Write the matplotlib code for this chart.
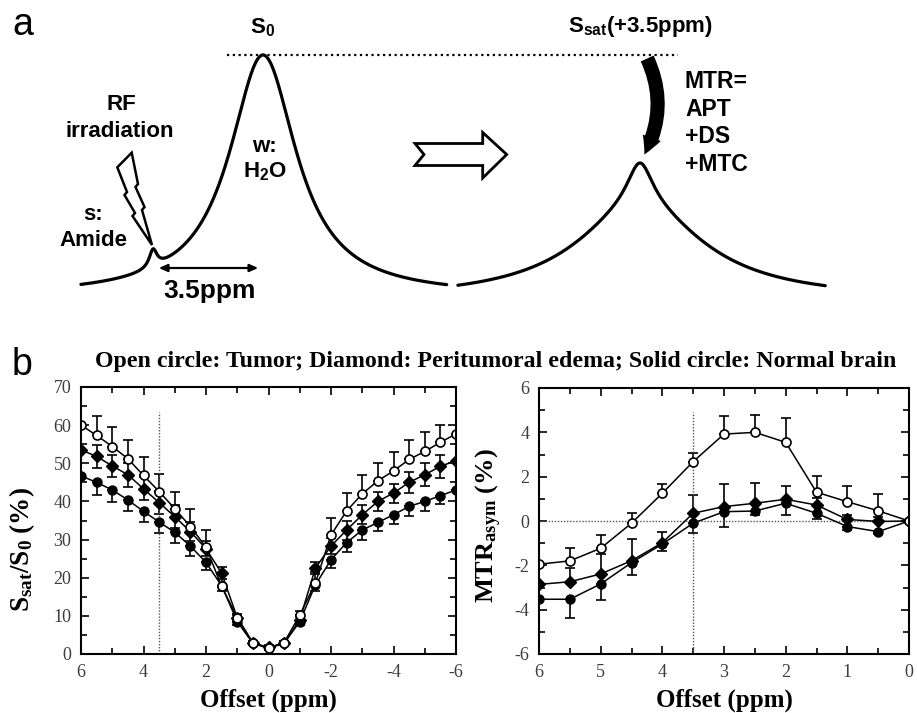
import matplotlib.pyplot as plt
import numpy as np
from matplotlib.patches import Polygon, FancyArrowPatch
from matplotlib.ticker import MultipleLocator

plt.rcParams["font.family"] = "Liberation Serif"
plt.rcParams["axes.unicode_minus"] = False
plt.rcParams["mathtext.fontset"] = "custom"
plt.rcParams["mathtext.rm"] = "Liberation Sans:bold"
plt.rcParams["mathtext.bf"] = "Liberation Serif:bold"

SANS = "Liberation Sans"

# ---- panel b, left: Z-spectra (Ssat/S0, %) ----
offset_z = [6, 5.5, 5, 4.5, 4, 3.5, 3, 2.5, 2, 1.5, 1, 0.5, 0,
            -0.5, -1, -1.5, -2, -2.5, -3, -3.5, -4, -4.5, -5, -5.5, -6]
tumor_z = [60, 57.3, 54.4, 51.2, 46.8, 42.6, 38.1, 33.4, 28, 17.8, 9.5, 3, 1.5,
           3, 10.2, 18.6, 31.2, 37.5, 42, 45.4, 48, 51, 53.1, 55.5, 57.7]
edema_z = [53.5, 51.8, 49.3, 47, 43.3, 39.7, 36, 32.1, 27.6, 21.2, 9.5, 2.8, 1.8,
           2.8, 9, 22.5, 28.3, 32.5, 36.5, 40, 42.2, 45, 47, 49.2, 50.7]
normal_z = [46.7, 45, 43, 40.4, 37.4, 34.6, 31.9, 28.3, 24, 17.9, 8.5, 2.8, 1.5,
            2.8, 8.5, 18.1, 24.7, 29.2, 32.5, 34.5, 36.5, 38.7, 40, 41.5, 43]
tumor_z_err = [0, 5, 5, 5, 4.8, 4.5, 4.5, 4.5, 4.5, 3.3, 1, 0.5, 0.5,
               0.5, 1.2, 3, 4.5, 4.7, 4.8, 4.7, 5, 5, 5, 4.5, 0]
edema_z_err = [0, 3, 3, 3.2, 3, 3, 3, 2.5, 2, 1.5, 0.8, 0.5, 0.5,
               0.5, 0.8, 1.5, 2, 2.5, 2.5, 2.5, 2.5, 2.8, 3, 3, 0]
normal_z_err = [0, 3.3, 3.2, 3, 2.8, 2.8, 2.8, 2.5, 2, 1.5, 0.8, 0.5, 0.5,
                0.5, 0.8, 1.5, 2.2, 2.5, 2.5, 2.3, 2.3, 2.5, 2.5, 2.3, 0]

# ---- panel b, right: MTRasym (%) ----
offset_m = [6, 5.5, 5, 4.5, 4, 3.5, 3, 2.5, 2, 1.5, 1, 0.5, 0]
tumor_m = [-1.95, -1.8, -1.23, -0.1, 1.25, 2.68, 3.92, 4.0, 3.55, 1.3, 0.87, 0.46, 0]
edema_m = [-2.86, -2.74, -2.39, -1.79, -0.98, 0.35, 0.65, 0.8, 0.98, 0.72, 0.07, -0.02, 0]
normal_m = [-3.53, -3.53, -2.84, -1.88, -1.04, -0.1, 0.42, 0.45, 0.8, 0.35, -0.25, -0.48, 0]
tumor_m_err = [0, 0.6, 0.6, 0.45, 0.4, 0.4, 0.8, 0.8, 1.1, 0.75, 0.7, 0.75, 0]
edema_m_err = [0, 0.6, 0.9, 1.0, 0.5, 0.82, 1.0, 0.93, 0.6, 0.3, 0.2, 0.2, 0]
normal_m_err = [0, 0.83, 0.72, 0.55, 0.3, 0.43, 0.7, 0.2, 0.55, 0.25, 0.15, 0.1, 0]

REF_OFFSET = 3.5

fig = plt.figure(figsize=(9.17, 7.13), dpi=100)

# overlay in pixel units for the schematic and free text
ov = fig.add_axes([0, 0, 1, 1], zorder=5)
ov.set_xlim(0, 917)
ov.set_ylim(713, 0)
ov.axis("off")
ov.patch.set_visible(False)


def lorentz(x, x0, w):
    return 1.0 / (1.0 + ((x - x0) / w) ** 2)


# ---- panel a: schematic spectra ----
PX_PER_PPM = 31.4
ppm = np.linspace(5.8, -5.85, 500)
xl = 263 - PX_PER_PPM * ppm
yl = 296 - 241 * lorentz(ppm, 0, 1.3) - 18 * lorentz(ppm, 3.5, 0.15)
ov.plot(xl, yl, color="black", lw=2.3, solid_capstyle="round")

ppm2 = np.linspace(5.8, -5.9, 500)
xr = 640 - PX_PER_PPM * ppm2
yr = 300 - 45 * lorentz(ppm2, 0, 0.5) - 92 * lorentz(ppm2, 0, 2.5)
ov.plot(xr, yr, color="black", lw=2.3, solid_capstyle="round")

ov.plot([227, 678], [55, 55], color="black", lw=1.6, ls=(0, (1, 1.6)))

ov.annotate("", xy=(156, 268), xytext=(261, 268),
            arrowprops=dict(arrowstyle="<|-|>,head_length=0.5,head_width=0.22",
                            color="black", lw=1.6))

bolt = [(131.7, 152.7), (117.3, 167.3), (127.0, 192.0), (124.5, 195.0), (135.0, 213.0),
        (132.5, 216.0), (152.0, 245.0), (142.0, 210.0), (144.5, 207.0), (135.5, 187.0),
        (138.0, 184.0)]
ov.add_patch(Polygon(bolt, closed=True, fill=False, ec="black", lw=1.8, joinstyle="miter"))

hollow = [(415, 143.5), (482.7, 143.5), (482.7, 132.5), (506.7, 154.5), (482.7, 178),
          (482.7, 165.5), (415, 165.5), (424, 154.5)]
ov.add_patch(Polygon(hollow, closed=True, fc="white", ec="black", lw=2.0, joinstyle="miter"))

ov.add_patch(FancyArrowPatch((646, 56), (643, 157), connectionstyle="arc3,rad=-0.26",
                             arrowstyle="simple,head_length=1.1,head_width=1.15,tail_width=0.85",
                             mutation_scale=12, color="black", lw=0))

kw_a = dict(family=SANS, weight="bold", color="black")
ov.text(12, 35, "a", family=SANS, fontsize=27, va="baseline", ha="left")
ov.text(263, 33, r"S$\mathrm{_0}$", fontsize=16, ha="center", va="baseline", **kw_a)
ov.text(640, 32, r"S$\mathrm{_{sat}}$(+3.5ppm)", fontsize=16, ha="center", va="baseline", **kw_a)
ov.text(121, 110, "RF", fontsize=16, ha="center", va="baseline", **kw_a)
ov.text(120, 137, "irradiation", fontsize=16, ha="center", va="baseline", **kw_a)
ov.text(93, 220, "s:", fontsize=16, ha="center", va="baseline", **kw_a)
ov.text(93, 246, "Amide", fontsize=16, ha="center", va="baseline", **kw_a)
ov.text(264, 152, "w:", fontsize=16, ha="center", va="baseline", **kw_a)
ov.text(265, 177, r"H$\mathrm{_2}$O", fontsize=16, ha="center", va="baseline", **kw_a)
ov.text(210, 298, "3.5ppm", fontsize=19, ha="center", va="baseline", **kw_a)
for i, line in enumerate(["MTR=", "APT", "+DS", "+MTC"]):
    ov.text(685, 88 + 27.7 * i, line, fontsize=16.5, ha="left", va="baseline", **kw_a)

# ---- panel b ----
ov.text(12, 375, "b", family=SANS, fontsize=27, va="baseline", ha="left")
ov.text(496, 367, "Open circle: Tumor; Diamond: Peritumoral edema; Solid circle: Normal brain",
        fontsize=17.2, weight="bold", ha="center", va="baseline")
ov.text(22, 550, r"S$\mathbf{_{sat}}$/S$\mathbf{_0}$ (%)", fontsize=19.5, weight="bold",
        rotation=90, ha="center", va="center")
ov.text(489, 526, r"MTR$\mathbf{_{asym}}$ (%)", fontsize=19, weight="bold",
        rotation=90, ha="center", va="center")

ax1 = fig.add_axes([81 / 917, 59 / 713, 375 / 917, 267 / 713])
ax2 = fig.add_axes([539 / 917, 59 / 713, 370 / 917, 266 / 713])


def draw_series(ax, x, y, err, style, err_dir):
    zeros = np.zeros(len(err))
    if err_dir == "up":
        yerr = [zeros, err]
    elif err_dir == "down":
        yerr = [err, zeros]
    else:
        yerr = [err, err]
    if style == "open":
        mk = dict(marker="o", ms=6.5, mfc="white", mec="black", mew=1.2)
    elif style == "diamond":
        mk = dict(marker="D", ms=6.3, mfc="black", mec="black")
    else:
        mk = dict(marker="o", ms=6.5, mfc="black", mec="black")
    ax.errorbar(x, y, yerr=yerr, color="black", lw=1.1, elinewidth=1.2,
                capsize=3.5, capthick=1.2, **mk)


draw_series(ax1, offset_z, normal_z, normal_z_err, "solid", "down")
draw_series(ax1, offset_z, edema_z, edema_z_err, "diamond", "both")
draw_series(ax1, offset_z, tumor_z, tumor_z_err, "open", "up")
ax1.vlines(REF_OFFSET, 0, 63.5, colors="#555555", lw=1, linestyles=(0, (1, 1.2)))

draw_series(ax2, offset_m, normal_m, normal_m_err, "solid", "down")
draw_series(ax2, offset_m, edema_m, edema_m_err, "diamond", "up")
draw_series(ax2, offset_m, tumor_m, tumor_m_err, "open", "up")
ax2.vlines(REF_OFFSET, -6, 4.9, colors="#555555", lw=1, linestyles=(0, (1, 1.2)))
ax2.axhline(0, color="#555555", lw=1, ls=(0, (1, 1.2)))

ax1.set_xlim(6, -6)
ax1.set_ylim(0, 70)
ax1.xaxis.set_major_locator(MultipleLocator(2))
ax1.xaxis.set_minor_locator(MultipleLocator(1))
ax1.yaxis.set_major_locator(MultipleLocator(10))
ax1.yaxis.set_minor_locator(MultipleLocator(5))

ax2.set_xlim(6, 0)
ax2.set_ylim(-6, 6)
ax2.xaxis.set_major_locator(MultipleLocator(1))
ax2.xaxis.set_minor_locator(MultipleLocator(0.5))
ax2.yaxis.set_major_locator(MultipleLocator(2))
ax2.yaxis.set_minor_locator(MultipleLocator(1))

for ax in (ax1, ax2):
    ax.set_facecolor("none")
    for s in ax.spines.values():
        s.set_linewidth(1.5)
    ax.tick_params(which="major", direction="in", top=True, right=True, length=6, width=1.2,
                   labelsize=13, labelcolor="#3c3c3c", pad=7)
    ax.tick_params(which="minor", direction="in", top=True, right=True, length=4, width=1.2)
    ax.set_xlabel("Offset (ppm)", fontsize=18, weight="bold", labelpad=6)

fig.savefig("out.png", dpi=100)
